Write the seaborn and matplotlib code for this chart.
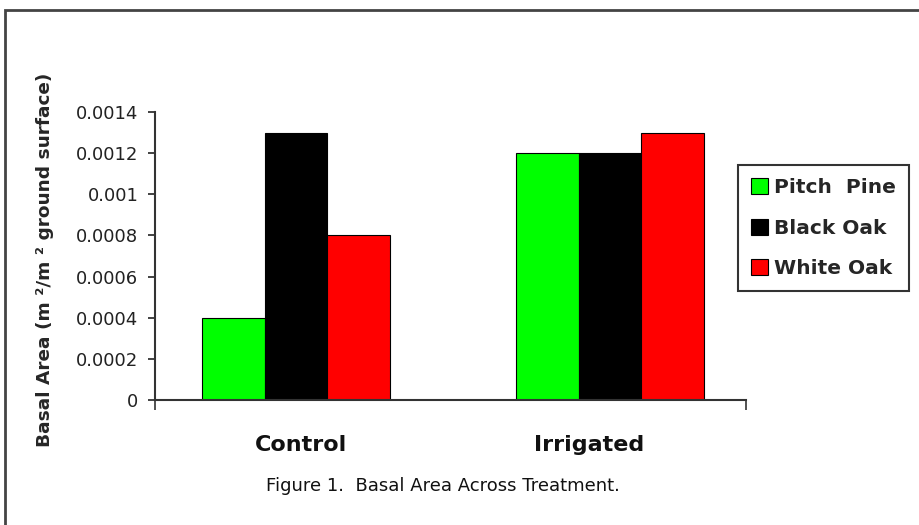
import numpy as np
import pandas as pd
import matplotlib
matplotlib.use("Agg")
import matplotlib.pyplot as plt
from matplotlib.patches import Rectangle
from matplotlib.transforms import ScaledTranslation
import seaborn as sns

# Basal area (m^2 per m^2 of ground surface) by treatment and species
treatments = ["Control", "Irrigated"]
species = ["Pitch Pine", "Black Oak", "White Oak"]
legend_labels = ["Pitch  Pine", "Black Oak", "White Oak"]
pitch_pine = [0.0004, 0.0012]
black_oak = [0.0013, 0.0012]
white_oak = [0.0008, 0.0013]
colors = ["#00FF00", "#000000", "#FF0000"]
y_ticks = [0, 0.0002, 0.0004, 0.0006, 0.0008, 0.001, 0.0012, 0.0014]
y_tick_labels = ["0", "0.0002", "0.0004", "0.0006", "0.0008", "0.001", "0.0012", "0.0014"]

df = pd.DataFrame({
    "treatment": treatments * 3,
    "species": np.repeat(species, len(treatments)),
    "area": pitch_pine + black_oak + white_oak,
})

sns.set_style("ticks")
plt.rcParams["font.family"] = ["DejaVu Sans"]

W, H = 920, 525
fig = plt.figure(figsize=(W / 100, H / 100), dpi=100, facecolor="white")
ax = fig.add_axes([155 / W, 1 - 400 / H, (746 - 155) / W, (400 - 112) / H])

sns.barplot(data=df, x="treatment", y="area", hue="species",
            order=treatments, hue_order=species,
            palette=dict(zip(species, colors)),
            width=0.6, edgecolor="black", linewidth=0.8, saturation=1,
            ax=ax)

ax.set_ylim(0, 0.0014)
ax.set_xlim(-0.449, 1.433)
ax.set_yticks(y_ticks)
ax.set_yticklabels(y_tick_labels)
ax.tick_params(axis="y", direction="out", length=5, width=1.2, pad=7,
               labelsize=13, colors="#222")

# category labels below the axis, no tick marks at the category centres
ax.set_xticks([0, 1])
ax.set_xticklabels(treatments, fontsize=16, fontweight="bold")
ax.tick_params(axis="x", which="major", length=0, pad=25, colors="#111")
for lab, dx in zip(ax.get_xticklabels(), [5, -21]):
    lab.set_transform(lab.get_transform() + ScaledTranslation(dx / 100, 0, fig.dpi_scale_trans))
# boundary tick marks at both ends of the category axis
ax.set_xticks(ax.get_xlim(), minor=True)
ax.tick_params(axis="x", which="minor", direction="out", length=7, width=1.2, color="#333")

ax.set_xlabel("")
ax.set_ylabel("Basal Area (m ²/m ² ground surface)", fontsize=13.3, fontweight="bold",
              va="center")
ax.yaxis.set_label_coords((45 - 155) / 591, (400 - 260) / 288)

for side in ["top", "right"]:
    ax.spines[side].set_visible(False)
for side in ["left", "bottom"]:
    ax.spines[side].set_color("#333")
    ax.spines[side].set_linewidth(1.5)

handles, _ = ax.get_legend_handles_labels()
ax.legend(handles, legend_labels, loc="upper left",
          bbox_to_anchor=(738 / W, 1 - 165 / H), bbox_transform=fig.transFigure,
          borderaxespad=0, fancybox=False, frameon=True, edgecolor="#333",
          framealpha=1, handlelength=0.85, handleheight=0.85, handletextpad=0.3,
          labelspacing=1.07, borderpad=0.65,
          prop={"size": 14.5, "weight": "bold"})
ax.get_legend().get_frame().set_linewidth(1.5)

fig.text(443 / W, 1 - 486 / H, "Figure 1.  Basal Area Across Treatment.",
         ha="center", va="center", fontsize=13, color="#111")

# outer frame around the figure area
fig.add_artist(Rectangle((5 / W, -0.05), 1.1, 1 - 10 / H + 0.05,
                         transform=fig.transFigure, fill=False,
                         edgecolor="#444", linewidth=2, clip_on=False))

fig.savefig("out.png", dpi=100, facecolor="white")
